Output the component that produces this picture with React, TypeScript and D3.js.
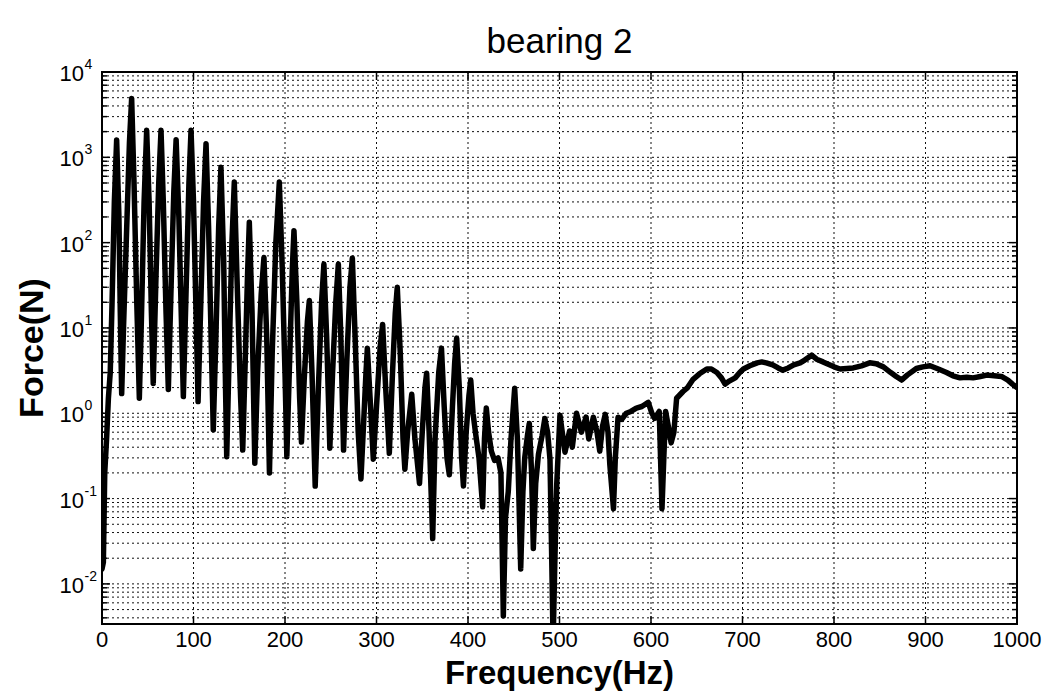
import React from "react";
import * as d3 from "d3";

// ---- data ----
const freqHz = [
  0, 1.5, 3, 5, 7, 9, 11, 13.5, 16, 18.5, 20, 21.5, 23.5, 27, 30, 32.4, 35, 38, 40.8, 43, 46, 48.8,
  51.5, 54, 56, 59, 62, 64.5, 67, 70, 72.5, 75.5, 78.5, 81, 84, 87, 88.9, 92, 95, 97.3, 100, 103,
  105, 108, 111, 113.7, 116.5, 119.5, 121.6, 124.5, 127.5, 130, 133, 135, 136.3, 139, 142, 144.6,
  147.5, 151.5, 153.8, 156.5, 159, 161, 164, 167, 170, 174, 177, 180, 183, 186, 190, 193.8, 197,
  200, 202, 205, 208, 209.8, 213, 216, 218, 221, 224.5, 226.6, 229.5, 233, 236.5, 240, 242.5,
  245.5, 249, 252, 255.5, 258.3, 261, 264, 267.5, 271, 273.6, 277, 280, 283, 286, 288.5, 290, 293,
  296.5, 300, 304, 306.7, 310, 314, 317.5, 320.5, 322.7, 326, 329, 331, 334, 338.5, 342, 347, 350,
  353, 354.8, 357.5, 361.4, 364, 368, 371, 374, 377, 379.6, 383, 385.5, 387.6, 390.5, 393, 395,
  398, 401, 403, 405.5, 408.5, 412, 416, 418, 420, 422.5, 425.5, 429, 432.8, 436, 438.6, 441, 444,
  447, 451, 454, 457.6, 460, 462, 465, 467, 469.5, 471.4, 474, 477, 481, 484, 487, 489.6, 491.5,
  493, 495, 497, 500.5, 503, 506, 511, 514, 518.6, 524, 529, 532, 537, 541, 544, 547, 550, 553,
  555, 559, 561, 564, 568, 573, 578, 584, 590, 597, 601, 604, 609, 612, 614, 616, 619, 622, 625,
  628, 635, 640, 646, 653, 661, 666, 672, 677, 681, 686, 692, 697, 701, 708, 716, 721, 726, 733,
  739, 744, 750, 756, 763, 768, 775.6, 781, 788, 795, 800, 806.6, 814, 821, 830, 839, 846, 854,
  862, 868, 874, 880, 890, 897, 905, 914, 923, 930, 937.7, 945, 952, 960, 967, 975, 983, 990, 995,
  1000,
];

const forceN = [
  0.015, 0.018, 0.2, 0.5, 1.5, 3, 20, 300, 1600, 200, 15, 1.7, 10, 150, 1500, 4900, 500, 20, 1.5,
  12, 300, 2070, 300, 15, 2.24, 40, 500, 2070, 300, 15, 1.9, 30, 400, 1610, 200, 10, 1.57, 30, 500,
  2070, 300, 12, 1.37, 20, 300, 1445, 150, 6, 0.64, 8, 150, 767, 60, 2, 0.31, 5, 100, 513, 40, 1.5,
  0.37, 4, 40, 173, 15, 0.26, 3, 25, 67, 8, 0.2, 5, 100, 513, 50, 3, 0.31, 4, 50, 138, 20, 1.5,
  0.46, 2.5, 12, 21, 3, 0.14, 2, 20, 56, 8, 0.39, 3, 20, 56, 8, 0.37, 4, 30, 66, 6, 0.6, 0.17, 0.8,
  3, 5.8, 1.5, 0.29, 1.2, 6, 11, 2, 0.34, 3, 15, 30, 5, 0.5, 0.22, 0.6, 1.67, 0.5, 0.15, 0.6, 2,
  2.95, 0.6, 0.034, 0.5, 3, 5.8, 1.2, 0.3, 0.19, 1.2, 4, 7.6, 2, 0.3, 0.14, 0.6, 1.6, 2.45, 1,
  0.56, 0.3, 0.08, 0.5, 1.15, 0.6, 0.36, 0.28, 0.3, 0.2, 0.0042, 0.06, 0.12, 0.5, 1.96, 0.5, 0.015,
  0.12, 0.3, 0.55, 0.76, 0.2, 0.026, 0.15, 0.33, 0.55, 0.87, 0.6, 0.29, 0.02, 0.002, 0.02, 0.15,
  0.95, 0.6, 0.35, 0.62, 0.4, 1.0, 0.6, 0.9, 0.5, 0.9, 0.6, 0.36, 0.7, 0.97, 0.6, 0.25, 0.076, 0.3,
  0.9, 0.85, 1.0, 1.05, 1.15, 1.2, 1.34, 1.0, 0.87, 1.05, 0.076, 0.3, 1.05, 0.7, 0.45, 0.6, 1.5,
  1.8, 2.0, 2.5, 2.9, 3.3, 3.3, 3.0, 2.6, 2.2, 2.4, 2.6, 3.0, 3.3, 3.6, 3.9, 4.0, 3.9, 3.7, 3.4,
  3.2, 3.4, 3.7, 3.9, 4.2, 4.8, 4.3, 4.0, 3.7, 3.5, 3.3, 3.35, 3.4, 3.6, 3.9, 3.8, 3.5, 3.0, 2.7,
  2.45, 2.8, 3.35, 3.5, 3.6, 3.3, 3.0, 2.75, 2.6, 2.65, 2.6, 2.7, 2.8, 2.75, 2.7, 2.45, 2.2, 2.0,
];

const xTickValues = [0, 100, 200, 300, 400, 500, 600, 700, 800, 900, 1000];
const yDecadeExponents = [-2, -1, 0, 1, 2, 3, 4];
const minorMultipliers = [2, 3, 4, 5, 6, 7, 8, 9];

const titleText = "bearing 2";
const xLabelText = "Frequency(Hz)";
const yLabelText = "Force(N)";

// ---- layout ----
const W = 1048;
const H = 694;
const L = 102;
const R = 1017;
const T = 72;
const B = 624;
const FONT = "'Liberation Sans', Arial, Helvetica, sans-serif";

export default function App() {
  const x = d3.scaleLinear().domain([0, 1000]).range([L, R]);
  const y = d3.scaleLog().domain([Math.pow(10, -2.47), 1e4]).range([B, T]);
  const [yMin, yMax] = y.domain();

  const pts: [number, number][] = freqHz.map((f, i) => [f, forceN[i]]);
  const line = d3
    .line<[number, number]>()
    .x((d) => x(d[0]))
    .y((d) => y(d[1]))
    .curve(d3.curveLinear);

  const gridY: number[] = [];
  for (let e = -3; e <= 4; e++) {
    const base = Math.pow(10, e);
    if (base >= yMin && base <= yMax) gridY.push(base);
    for (const m of minorMultipliers) {
      const v = m * base;
      if (v >= yMin && v <= yMax) gridY.push(v);
    }
  }

  const dash = "2,3";
  return (
    <svg
      width={W}
      height={H}
      viewBox={`0 0 ${W} ${H}`}
      style={{ position: "absolute", left: 0, top: 0, background: "#fff" }}
      fontFamily={FONT}
    >
      <rect x={0} y={0} width={W} height={H} fill="#fff" />
      <defs>
        <clipPath id="plotclip">
          <rect x={L} y={T} width={R - L} height={B - T} />
        </clipPath>
      </defs>

      {/* grid */}
      <g stroke="#111" strokeWidth={1} strokeDasharray={dash}>
        {gridY.map((v, i) => (
          <line key={"gy" + i} x1={L} x2={R} y1={y(v)} y2={y(v)} />
        ))}
        {xTickValues.map((v, i) => (
          <line key={"gx" + i} x1={x(v)} x2={x(v)} y1={T} y2={B} />
        ))}
      </g>

      {/* ticks */}
      <g stroke="#000" strokeWidth={1.5}>
        {xTickValues.map((v, i) => (
          <g key={"xt" + i}>
            <line x1={x(v)} x2={x(v)} y1={B} y2={B - 8} />
            <line x1={x(v)} x2={x(v)} y1={T} y2={T + 8} />
          </g>
        ))}
        {gridY.map((v, i) => {
          const major = Math.abs(Math.log10(v) - Math.round(Math.log10(v))) < 1e-9;
          const len = major ? 8 : 5;
          return (
            <g key={"yt" + i}>
              <line x1={L} x2={L + len} y1={y(v)} y2={y(v)} />
              <line x1={R} x2={R - len} y1={y(v)} y2={y(v)} />
            </g>
          );
        })}
      </g>

      {/* data */}
      <g clipPath="url(#plotclip)">
        <path
          d={line(pts) || ""}
          fill="none"
          stroke="#000"
          strokeWidth={5.5}
          strokeLinejoin="round"
          strokeLinecap="round"
        />
      </g>

      {/* box */}
      <rect x={L} y={T} width={R - L} height={B - T} fill="none" stroke="#000" strokeWidth={2} />

      {/* x tick labels */}
      <g fontSize={22} textAnchor="middle" fill="#000">
        {xTickValues.map((v, i) => (
          <text key={"xl" + i} x={x(v)} y={647}>
            {v}
          </text>
        ))}
      </g>

      {/* y tick labels */}
      <g fill="#000">
        {yDecadeExponents.map((e, i) => {
          const yy = y(Math.pow(10, e));
          return (
            <g key={"yl" + i}>
              <text x={84} y={yy + 9} fontSize={22} textAnchor="end">
                10
              </text>
              <text x={84.5} y={yy - 3} fontSize={14} textAnchor="start">
                {e < 0 ? "-" + Math.abs(e) : String(e)}
              </text>
            </g>
          );
        })}
      </g>

      {/* title */}
      <text x={(L + R) / 2} y={53} fontSize={35} textAnchor="middle" fill="#000">
        {titleText}
      </text>

      {/* axis labels */}
      <text x={(L + R) / 2} y={684} fontSize={33} fontWeight="bold" textAnchor="middle" fill="#000">
        {xLabelText}
      </text>
      <text
        transform={`translate(43, ${(T + B) / 2}) rotate(-90)`}
        fontSize={34}
        fontWeight="bold"
        textAnchor="middle"
        fill="#000"
      >
        {yLabelText}
      </text>
    </svg>
  );
}
